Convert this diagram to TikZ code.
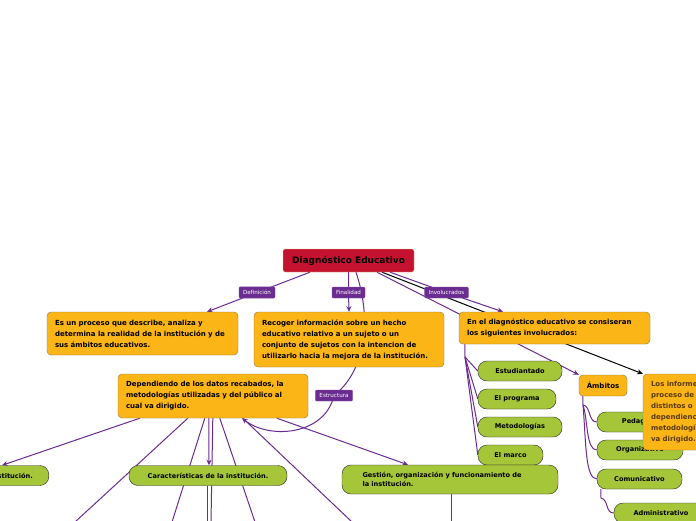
\documentclass[tikz,border=0pt]{standalone}
\usepackage{fontspec}
\setmainfont{DejaVu Sans}
\usepackage{tikz}
\usetikzlibrary{arrows.meta,backgrounds}
\usepackage{xcolor}
\definecolor{mapred}{HTML}{C41230}
\definecolor{mapgold}{HTML}{FBB516}
\definecolor{goldedge}{HTML}{8C7A52}
\definecolor{mapgreen}{HTML}{A6C63A}
\definecolor{mappurple}{HTML}{6A2C90}
\definecolor{topicedge}{HTML}{F0D27C}
\definecolor{infotext}{HTML}{5A3A0C}

\begin{document}
\begin{tikzpicture}[x=1pt,y=-1pt,>={Stealth[length=2mm,width=1.8mm]},line cap=round,
  topic/.style={draw=topicedge,fill=mapred,rounded corners=2pt,minimum width=131pt,minimum height=23pt,font=\bfseries\fontsize{9}{10}\selectfont},
  idea/.style={draw=goldedge,fill=mapgold,rounded corners=4pt,inner xsep=8pt,align=left,font=\bfseries\fontsize{7}{11}\selectfont},
  leaf/.style={draw=black!85,fill=mapgreen,rounded corners=9pt,minimum height=20pt,font=\bfseries\fontsize{6.6}{9}\selectfont},
  tag/.style={fill=mappurple,draw=mappurple!80!white,rounded corners=1pt,text=white,inner xsep=4pt,minimum height=11pt,font=\fontsize{5.6}{6}\selectfont},
  link/.style={mappurple,line width=1pt}]
\useasboundingbox (0,0) rectangle (696,520);
\node[topic] (central) at (348.5,260.5) {Diagnóstico Educativo};
\node[idea,text width=175pt,minimum height=43pt] (def) at (142.5,333.5) {Es un proceso que describe, analiza y\\determina la realidad de la institución y de\\sus ámbitos educativos.};
\node[idea,text width=174pt,minimum height=55pt] (fin) at (349,339.5) {Recoger información sobre un hecho\\educativo relativo a un sujeto o un\\conjunto de sujetos con la intencion de\\utilizarlo hacia la mejora de la institución.};
\node[idea,text width=175pt,minimum height=32pt] (inv) at (554.5,328) {En el diagnóstico educativo se consiseran\\los siguientes involucrados:};
\node[idea,text width=174pt,minimum height=44pt] (dep) at (213,396) {Dependiendo de los datos recabados, la\\metodologías utilizadas y del público al\\cual va dirigido.};
\node[idea,inner xsep=4pt,minimum width=48pt,minimum height=21pt] (amb) at (603,385.5) {Ámbitos};
\node[leaf,minimum width=84pt] (est) at (520,371) {Estudiantado};
\node[leaf,minimum width=78pt] (prog) at (517,399) {El programa};
\node[leaf,minimum width=84pt] (met) at (520,427) {Metodologías};
\node[leaf,minimum width=65pt] (marco) at (510.5,455) {El marco};
\node[leaf,minimum width=93pt] (ped) at (643.5,422) {Pedagógico};
\node[leaf,minimum width=86pt] (org) at (640,450) {Organizativo};
\node[leaf,minimum width=85pt] (com) at (639.5,479) {Comunicativo};
\node[leaf,minimum width=94pt] (adm) at (661,513) {Administrativo};
\node[idea,text width=101pt,minimum height=76pt,text=infotext] (inf) at (701.5,412) {Los informe\\proceso de\\distintos o\\dependienc\\metodologí\\va dirigido.};
\node[leaf,inner xsep=16pt,anchor=east] (inst) at (49,475.5) {Institución.};
\node[leaf,minimum width=158pt] (car) at (208,475.5) {Características de la institución.};
\node[leaf,text width=175pt,align=left,minimum width=216pt,minimum height=29pt,font=\bfseries\fontsize{6.6}{8.5}\selectfont] (ges) at (450,479.5) {Gestión, organización y funcionamiento de\\la institución.};
\node[tag] (defl) at (257,292.5) {Definición};
\node[tag] (finl) at (348.5,292.5) {Finalidad};
\node[tag] (invl) at (446.5,292.5) {Involucrados};
\node[tag] (estl) at (334,395.5) {Estructura};
\coordinate (ib) at (465,357);
\coordinate (ab) at (583,405);
\coordinate (cb) at (601,498);
\coordinate (d1) at (75,522);
\coordinate (d2) at (172,522);
\coordinate (d3) at (211,522);
\coordinate (d4) at (255,522);
\coordinate (d5) at (352,522);
\coordinate (c1) at (207,522);
\coordinate (g1) at (451,522);
\begin{scope}[on background layer]
\fill[white] (0,0) rectangle (696,520);
\draw[link,->] ([xshift=-38.5pt]central.south) -- (defl.center) -- ([xshift=64.5pt]def.north);
\draw[link,->] (central.south) -- (finl.center) -- (fin.north);
\draw[link,->] ([xshift=41.5pt]central.south) -- (invl.center) -- ([xshift=-51.5pt]inv.north);
\draw[link,->] ([xshift=28.5pt]central.south) -- (amb.north west);
\draw[black,line width=1pt,->] ([xshift=33.5pt]central.south) -- (inf.north west);
\draw[link,->] ([xshift=7.5pt]central.south) .. controls (372,320) and (366,370) .. (estl.center) .. controls (325,435) and (270,440) .. ([xshift=29pt]dep.south);
\draw[link] ([xshift=6pt]inv.south west) -- (ib);
\foreach \n in {est,prog,met,marco} \draw[link] (ib) -- (\n.west);
\draw[link] ([xshift=4pt]amb.south west) -- (ab);
\draw[link] (ab) .. controls (591,406) and (588,422) .. (ped.west);
\draw[link] (ab) .. controls (588,420) and (586,450) .. (org.west);
\draw[link] (ab) .. controls (586,440) and (585,479) .. (com.west);
\draw[link] ([xshift=4pt]com.south west) -- (cb) .. controls (609,500) and (605,513) .. (adm.west);
\draw[link,->] ([xshift=22pt]dep.south west) -- ([xshift=-47pt]inst.north east);
\draw[link] ([xshift=70pt]dep.south west) -- (d1);
\draw[link] ([xshift=87pt]dep.south west) -- (d2);
\draw[link,->] ([xshift=91pt]dep.south west) -- ([xshift=1pt]car.north);
\draw[link] ([xshift=95pt]dep.south west) -- (d3);
\draw[link] ([xshift=102pt]dep.south west) -- (d4);
\draw[link] ([xshift=125pt]dep.south west) -- (d5);
\draw[link,->] ([xshift=159pt]dep.south west) -- ([xshift=-42pt]ges.north);
\draw[link] ([xshift=-1pt]car.south) -- (c1);
\draw[link] ([xshift=1pt]ges.south) -- (g1);
\end{scope}
\end{tikzpicture}
\end{document}
